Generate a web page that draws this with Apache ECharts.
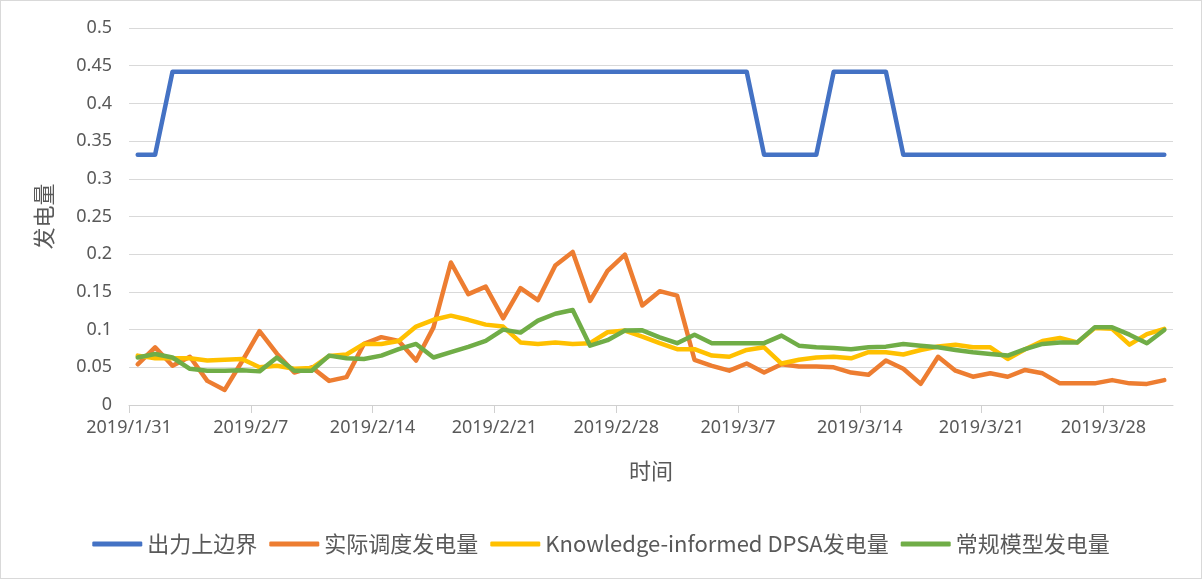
<!DOCTYPE html>
<html lang="zh">
<head>
	<meta charset="UTF-8">
	<title>发电量</title>
	<style>
	body, div {
		margin: 0;
		padding: 0;
	}
	#echart {
		width: 1202px;
		height: 579px;
		box-sizing: border-box;
		border: 1px solid #d9d9d9;
		background: #fff;
	}
	</style>
</head>
<body>
	<div id="echart"></div>

	<script src="https://cdn.jsdelivr.net/npm/echarts@6/dist/echarts.min.js"></script>

	<script>
	// 日期 (每天一个点)
	var dates = [
		'2019/1/31',
		'2019/2/1', '2019/2/2', '2019/2/3', '2019/2/4', '2019/2/5', '2019/2/6', '2019/2/7',
		'2019/2/8', '2019/2/9', '2019/2/10', '2019/2/11', '2019/2/12', '2019/2/13', '2019/2/14',
		'2019/2/15', '2019/2/16', '2019/2/17', '2019/2/18', '2019/2/19', '2019/2/20', '2019/2/21',
		'2019/2/22', '2019/2/23', '2019/2/24', '2019/2/25', '2019/2/26', '2019/2/27', '2019/2/28',
		'2019/3/1', '2019/3/2', '2019/3/3', '2019/3/4', '2019/3/5', '2019/3/6', '2019/3/7',
		'2019/3/8', '2019/3/9', '2019/3/10', '2019/3/11', '2019/3/12', '2019/3/13', '2019/3/14',
		'2019/3/15', '2019/3/16', '2019/3/17', '2019/3/18', '2019/3/19', '2019/3/20', '2019/3/21',
		'2019/3/22', '2019/3/23', '2019/3/24', '2019/3/25', '2019/3/26', '2019/3/27', '2019/3/28',
		'2019/3/29', '2019/3/30', '2019/3/31'
	];

	// x 轴刻度 (日期序号)
	var tickDays = [0, 7, 14, 21, 28, 35, 42, 49, 56];

	var seriesNames = ['出力上边界', '实际调度发电量', 'Knowledge-informed DPSA发电量', '常规模型发电量'];

	var upperBound = [
		0.332, 0.332, 0.442, 0.442, 0.442, 0.442, 0.442, 0.442, 0.442, 0.442,
		0.442, 0.442, 0.442, 0.442, 0.442, 0.442, 0.442, 0.442, 0.442, 0.442,
		0.442, 0.442, 0.442, 0.442, 0.442, 0.442, 0.442, 0.442, 0.442, 0.442,
		0.442, 0.442, 0.442, 0.442, 0.442, 0.442, 0.332, 0.332, 0.332, 0.332,
		0.442, 0.442, 0.442, 0.442, 0.332, 0.332, 0.332, 0.332, 0.332, 0.332,
		0.332, 0.332, 0.332, 0.332, 0.332, 0.332, 0.332, 0.332, 0.332, 0.332
	];

	var actual = [
		0.054, 0.0765, 0.052, 0.064, 0.032, 0.020, 0.058, 0.098, 0.068, 0.043,
		0.050, 0.032, 0.037, 0.081, 0.090, 0.085, 0.059, 0.103, 0.189, 0.147,
		0.157, 0.115, 0.155, 0.139, 0.185, 0.203, 0.138, 0.178, 0.1995, 0.132,
		0.151, 0.145, 0.060, 0.052, 0.0455, 0.055, 0.043, 0.054, 0.051, 0.051,
		0.050, 0.043, 0.040, 0.059, 0.048, 0.028, 0.064, 0.0455, 0.0375, 0.042,
		0.0375, 0.0465, 0.042, 0.0287, 0.029, 0.0287, 0.033, 0.0287, 0.028, 0.033
	];

	var dpsa = [
		0.0655, 0.062, 0.062, 0.062, 0.059, 0.060, 0.061, 0.050, 0.052, 0.048,
		0.049, 0.065, 0.067, 0.081, 0.081, 0.085, 0.104, 0.113, 0.1185, 0.113,
		0.1066, 0.104, 0.083, 0.081, 0.083, 0.081, 0.082, 0.0965, 0.0987, 0.0907,
		0.082, 0.074, 0.074, 0.0655, 0.064, 0.073, 0.0765, 0.055, 0.060, 0.063,
		0.064, 0.062, 0.070, 0.070, 0.067, 0.073, 0.0775, 0.080, 0.0765, 0.0765,
		0.061, 0.074, 0.085, 0.089, 0.083, 0.102, 0.101, 0.080, 0.094, 0.101
	];

	var normal = [
		0.063, 0.0677, 0.063, 0.048, 0.0455, 0.0455, 0.046, 0.0446, 0.063, 0.0455,
		0.0455, 0.0655, 0.062, 0.061, 0.0655, 0.074, 0.081, 0.063, 0.070, 0.077,
		0.085, 0.100, 0.096, 0.112, 0.121, 0.126, 0.0787, 0.086, 0.0987, 0.099,
		0.0898, 0.082, 0.0933, 0.082, 0.082, 0.082, 0.082, 0.092, 0.0787, 0.0765,
		0.0757, 0.074, 0.0765, 0.0774, 0.081, 0.0787, 0.0765, 0.073, 0.070, 0.0677,
		0.0655, 0.074, 0.081, 0.083, 0.083, 0.103, 0.103, 0.0933, 0.082, 0.0995
	];

	var colors = ['#4472c4', '#ed7d31', '#ffc000', '#70ad47'];

	// 每个点放在当天格子的中间
	function toPoints(values) {
		return values.map(function (v, i) {
			return [i + 0.5, v];
		});
	}

	function makeLine(name, values, color) {
		return {
			name: name,
			type: 'line',
			symbol: 'none',
			data: toPoints(values),
			lineStyle: {
				color: color,
				width: 4.5,
				cap: 'round',
				join: 'round'
			},
			itemStyle: {
				color: color
			}
		};
	}

	var myEchart = echarts.init(document.getElementById('echart'));

	var textColor = '#595959';

	var option = {
		animation: false,
		color: colors,
		grid: {
			left: 128,
			right: 28,
			top: 27,
			bottom: 173
		},
		legend: {
			bottom: 18,
			left: 'center',
			icon: 'roundRect',
			itemWidth: 50,
			itemHeight: 5,
			itemGap: 12,
			textStyle: {
				color: textColor,
				fontSize: 22,
				fontFamily: 'Noto Sans CJK SC'
			},
			data: seriesNames
		},
		xAxis: {
			type: 'value',
			min: 0,
			max: dates.length,
			name: '时间',
			nameLocation: 'middle',
			nameGap: 55,
			nameTextStyle: {
				color: textColor,
				fontSize: 22,
				fontFamily: 'Noto Sans CJK SC'
			},
			splitLine: { show: false },
			axisLine: {
				show: true,
				lineStyle: { color: '#d0d0d0', width: 1 }
			},
			axisTick: {
				show: true,
				length: 8,
				customValues: tickDays,
				lineStyle: { color: '#d0d0d0' }
			},
			axisLabel: {
				customValues: tickDays,
				margin: 14,
				color: textColor,
				fontSize: 18,
				fontFamily: 'Noto Sans',
				formatter: function (value) {
					return dates[Math.round(value)] || '';
				}
			}
		},
		yAxis: {
			type: 'value',
			min: 0,
			max: 0.5,
			interval: 0.05,
			name: '发电量',
			nameLocation: 'middle',
			nameGap: 74,
			nameTextStyle: {
				color: textColor,
				fontSize: 22,
				fontFamily: 'Noto Sans CJK SC'
			},
			axisLine: { show: false },
			axisTick: { show: false },
			splitLine: {
				lineStyle: { color: '#d9d9d9', width: 1 }
			},
			axisLabel: {
				margin: 17,
				color: textColor,
				fontSize: 18,
				fontFamily: 'Noto Sans'
			}
		},
		series: [
			makeLine(seriesNames[0], upperBound, colors[0]),
			makeLine(seriesNames[1], actual, colors[1]),
			makeLine(seriesNames[2], dpsa, colors[2]),
			makeLine(seriesNames[3], normal, colors[3])
		]
	};

	myEchart.setOption(option);
	</script>
</body>
</html>
